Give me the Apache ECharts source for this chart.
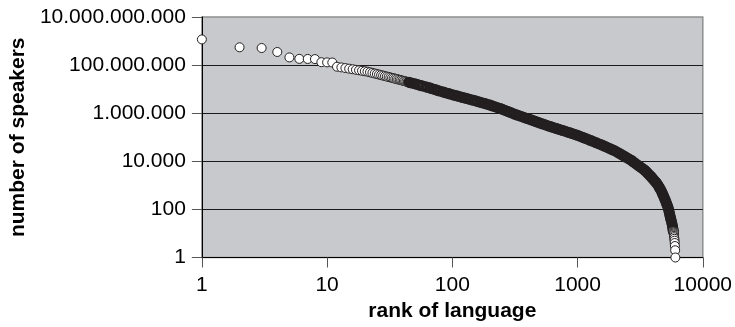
<!DOCTYPE html>
<html>
<head>
<meta charset="utf-8">
<style>
  html, body { margin: 0; padding: 0; background: #ffffff; }
  #chart { width: 735px; height: 327px; }
</style>
<script src="https://cdn.jsdelivr.net/npm/echarts@6/dist/echarts.min.js"></script>
</head>
<body>
<div id="chart"></div>
<script>
// Most-spoken languages, one marker per language (rank 1..44)
const topRank = [1, 2, 3, 4, 5, 6, 7, 8, 9, 10, 11,
  12, 13, 14, 15, 16, 17, 18, 19, 20, 21, 22, 23, 24, 25, 26, 27, 28, 29, 30,
  31, 32, 33, 34, 35, 36, 37, 38, 39, 40, 41, 42, 43, 44];
const topSpeakers = [1.17e9, 5.5e8, 5.13e8, 3.51e8, 2.09e8, 1.82e8, 1.8e8, 1.78e8, 1.32e8, 1.3e8, 1.28e8,
  8.57e7, 8.02e7, 7.53e7, 7.11e7, 6.73e7, 6.38e7, 6.08e7, 5.81e7, 5.56e7, 5.33e7,
  5.02e7, 4.73e7, 4.48e7, 4.25e7, 4.03e7, 3.84e7, 3.66e7, 3.49e7, 3.34e7, 3.2e7,
  3.07e7, 2.94e7, 2.83e7, 2.72e7, 2.62e7, 2.53e7, 2.44e7, 2.35e7, 2.27e7, 2.19e7,
  2.12e7, 2.06e7, 1.99e7];

// The long body of the distribution, where markers pile up into a solid band
const bandRank = [45, 46, 48, 50, 52, 54, 56, 58, 61, 63,
  66, 68, 71, 74, 76, 79, 83, 86, 89, 93,
  96, 100, 104, 108, 112, 117, 121, 126, 131, 136,
  141, 147, 153, 158, 165, 171, 178, 185, 192, 200,
  207, 215, 224, 233, 242, 251, 261, 271, 282, 293,
  304, 316, 329, 341, 355, 369, 383, 398, 414, 430,
  447, 464, 482, 501, 521, 541, 562, 584, 607, 631,
  656, 681, 708, 736, 764, 794, 825, 858, 891, 926,
  962, 1000, 1039, 1080, 1122, 1166, 1212, 1259, 1308, 1360,
  1413, 1468, 1525, 1585, 1647, 1711, 1778, 1848, 1920, 1995,
  2073, 2154, 2239, 2326, 2417, 2512, 2610, 2712,
  2777, 2863, 2951, 3044, 3140, 3238, 3340, 3440, 3516, 3593,
  3672, 3753, 3833, 3906, 3981, 4058, 4135, 4215, 4295, 4386,
  4465, 4545, 4626, 4698, 4762, 4825, 4890, 4955, 5019, 5078,
  5138, 5197, 5260, 5317, 5360, 5405, 5449, 5493, 5540, 5587,
  5636, 5684, 5725, 5754, 5792, 5806];
const bandSpeakers = [1.95e7, 1.85e7, 1.77e7, 1.68e7, 1.59e7, 1.5e7, 1.42e7, 1.34e7, 1.27e7, 1.2e7,
  1.13e7, 1.06e7, 1e7, 9.4e6, 8.85e6, 8.32e6, 7.85e6, 7.41e6, 7e6, 6.61e6,
  6.24e6, 5.89e6, 5.58e6, 5.29e6, 5.01e6, 4.75e6, 4.5e6, 4.27e6, 4.04e6, 3.83e6,
  3.63e6, 3.44e6, 3.26e6, 3.09e6, 2.92e6, 2.75e6, 2.6e6, 2.45e6, 2.32e6, 2.19e6,
  2.04e6, 1.91e6, 1.78e6, 1.66e6, 1.55e6, 1.45e6, 1.34e6, 1.24e6, 1.14e6, 1.06e6,
  9.75e5, 9.02e5, 8.41e5, 7.85e5, 7.33e5, 6.84e5, 6.38e5, 5.96e5, 5.55e5, 5.17e5,
  4.81e5, 4.48e5, 4.18e5, 3.89e5, 3.64e5, 3.4e5, 3.18e5, 2.97e5, 2.78e5, 2.6e5,
  2.44e5, 2.29e5, 2.15e5, 2.02e5, 1.89e5, 1.78e5, 1.67e5, 1.56e5, 1.46e5, 1.37e5,
  1.28e5, 1.2e5, 1.11e5, 1.03e5, 9.5e4, 8.78e4, 8.11e4, 7.5e4, 6.92e4, 6.38e4,
  5.89e4, 5.43e4, 5.01e4, 4.62e4, 4.23e4, 3.86e4, 3.53e4, 3.22e4, 2.95e4, 2.69e4,
  2.4e4, 2.14e4, 1.91e4, 1.7e4, 1.51e4, 1.35e4, 1.2e4, 1.07e4,
  9550, 8510, 7590, 6760, 6030, 5370, 4790, 4270, 3800, 3390,
  3020, 2690, 2400, 2140, 1905, 1700, 1510, 1350, 1200, 1020,
  871, 741, 631, 537, 457, 389, 331, 282, 240, 204,
  174, 148, 126, 105, 87, 72, 60, 50, 42, 35,
  29, 24, 20, 17, 14, 13];

// Smallest languages, down to a single speaker
const tailRank = [5821, 5840, 5855, 5870, 5886, 5905, 5927, 5948, 5964, 5985, 6014, 6039];
const tailSpeakers = [12, 11, 10, 9, 8, 7, 6, 5, 4, 3, 2, 1];

const FONT = '"Liberation Sans", Arial, Helvetica, sans-serif';
const INK = '#231f20';

const pairs = (xs, ys) => xs.map((x, i) => [x, ys[i]]);
const dotted = v => String(Math.round(v)).replace(/\B(?=(\d{3})+(?!\d))/g, '.');

const markerSeries = (data, size, border) => ({
  type: 'scatter',
  data: data,
  symbol: 'circle',
  symbolSize: size,
  clip: false,
  silent: true,
  itemStyle: { color: '#ffffff', borderColor: INK, borderWidth: border, opacity: 1 },
  emphasis: { disabled: true }
});

const chart = echarts.init(document.getElementById('chart'), null, { renderer: 'canvas' });
chart.setOption({
  animation: false,
  backgroundColor: '#ffffff',
  grid: {
    left: 199, top: 17, width: 507, height: 240.5,
    show: true,
    backgroundColor: '#c8c9cc',
    borderColor: '#8f8f8f',
    borderWidth: 1.5
  },
  xAxis: {
    type: 'log',
    logBase: 10,
    min: 1,
    max: 10000,
    name: 'rank of language',
    nameLocation: 'middle',
    nameGap: 43,
    nameTextStyle: { fontFamily: FONT, fontSize: 21, fontWeight: 'bold', color: '#000' },
    axisLine: { onZero: false, lineStyle: { color: '#000', width: 1 } },
    axisTick: { show: true, inside: false, length: 10, lineStyle: { color: '#555', width: 1 } },
    axisLabel: { margin: 17, fontFamily: FONT, fontSize: 21, color: '#000',
      formatter: v => String(Math.round(v)) },
    splitLine: { show: false },
    minorTick: { show: false }
  },
  yAxis: {
    type: 'log',
    logBase: 100,
    min: 1,
    max: 1e10,
    name: 'number of speakers',
    nameLocation: 'middle',
    nameGap: 169,
    nameTextStyle: { fontFamily: FONT, fontSize: 21, fontWeight: 'bold', color: '#000' },
    axisLine: { onZero: false, lineStyle: { color: '#000', width: 1 } },
    axisTick: { show: true, inside: false, length: 10, lineStyle: { color: '#555', width: 1 } },
    axisLabel: { margin: 16, fontFamily: FONT, fontSize: 21, color: '#000', formatter: dotted },
    splitLine: { show: true, showMinLine: false, showMaxLine: false,
      lineStyle: { color: '#1a1a1a', width: 1 } },
    minorTick: { show: false }
  },
  series: [
    markerSeries(pairs(topRank, topSpeakers), 9, 1),
    markerSeries(pairs(bandRank, bandSpeakers), 8, 3),
    markerSeries(pairs(tailRank, tailSpeakers), 9, 1)
  ]
});
</script>
</body>
</html>
